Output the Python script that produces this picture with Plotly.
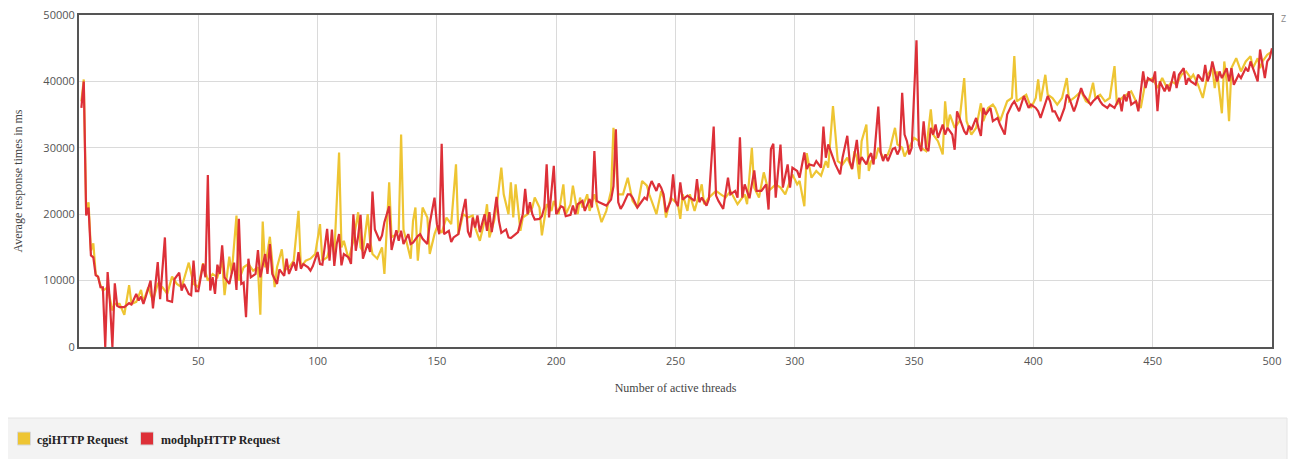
import plotly.graph_objects as go

# ---- data ----
cgi_threads = [1,2,3,4,5,6,7,8,9,10,12,13,14,15,17,19,21,22,24,26,27,29,31,33,35,37,39,41,43,46,48,50,52,54,56,58,60,61,63,64,66,67,69,71,73,75,76,77,78,80,
82,83,85,86,88,90,92,93,95,97,99,101,102,104,106,107,109,110,111,113,115,117,118,119,121,122,123,125,127,128,130,131,133,134,135,136,138,139,140,141,142,144,146,147,149,150,152,154,156,158,159,161,
163,165,166,168,170,171,172,174,175,177,178,180,181,182,183,185,186,188,190,191,193,194,196,198,199,201,203,204,206,207,209,210,211,213,214,216,217,219,221,222,223,224,226,228,230,232,234,236,238,239,240,242,244,245,
246,248,251,252,253,255,256,258,261,262,264,267,269,271,273,276,279,280,282,283,285,287,289,292,294,296,299,301,302,304,305,307,309,311,313,314,316,318,320,322,324,325,
326,327,328,330,331,332,334,335,337,339,340,342,343,345,346,348,350,352,353,355,357,358,360,362,363,364,365,367,369,371,372,374,376,378,379,381,383,384,386,387,389,391,392,393,395,397,399,401,402,403,405,406,
408,410,412,414,415,417,420,422,423,425,426,428,430,432,434,435,437,439,441,443,445,447,450,452,454,456,458,460,462,464,466,467,469,471,473,475,476,477,479,480,481,482,483,485,487,489,491,492,494,495,496,498,500]
cgi_ms = [37000,40300,20500,21800,14500,15600,11000,10500,9300,8500,9000,7000,5500,6500,6500,4850,9300,6500,6800,8600,6800,9000,7000,9500,9000,8000,10600,9500,9000,12700,9500,9000,12600,10000,11000,10500,13000,7800,13600,11000,19800,10000,12000,12500,11500,12000,4850,18900,12000,16600,
9000,12000,14700,11500,12000,13000,20500,12000,13000,13300,14000,18500,13000,13500,16000,14000,29300,15000,16000,13200,16000,20300,15000,14400,20000,16000,14000,13300,15000,11000,24800,16500,17000,17500,32000,17700,15000,13300,19000,21000,13000,21000,19500,14000,17000,18000,17200,19500,18500,27500,17000,20000,
19500,19800,18000,16000,19000,21500,16500,19000,21000,27000,23000,20000,24800,19500,24500,17500,19500,20000,21000,22500,21000,16800,21500,20500,22000,20000,24500,20000,21500,24300,20000,22500,21000,23000,20500,23000,21500,18800,20500,22000,23500,33000,23000,23000,25500,22000,21000,25000,24300,23000,22000,20000,23500,22500,
19500,22500,21500,19300,23000,20500,23000,20500,24500,21500,22500,23500,23000,22500,23500,21500,23000,21500,30000,24000,22500,26300,23500,24500,24000,23000,26000,24500,25000,21200,29200,25500,26500,25800,28000,27000,36300,28000,27500,28500,26800,29500,
28500,25300,31000,33500,26500,28000,28500,30000,28500,29000,30000,33000,30500,30000,28700,30000,31500,31000,30000,29500,35800,32000,31000,29000,37000,33000,35000,33000,34000,40500,34000,32000,33000,36700,34000,36000,36500,36000,34000,35000,37000,37500,43800,37000,37500,38000,36000,37500,40300,37000,41000,38000,
37500,36500,37500,40500,37000,37500,38500,37000,36800,39800,37500,38000,37000,37500,42300,36500,37500,38000,38500,37000,36000,40000,40500,39000,40500,39000,40000,39500,41000,41500,40500,41000,39500,37500,41000,42000,39000,41500,35200,43000,40000,34000,42000,43500,41500,43000,43800,42000,43500,42000,43000,44000,44500]

modphp_threads = [1,2,3,4,5,6,7,8,9,10,11,12,13,14,15,16,17,19,21,22,24,25,26,27,28,30,31,33,34,36,37,39,40,42,43,44,46,47,48,49,50,52,53,54,55,56,57,58,59,60,61,62,63,65,66,67,68,69,70,71,72,74,75,76,78,79,80,81,
83,84,86,87,88,90,91,92,93,94,96,97,98,100,101,102,104,105,106,107,108,109,110,111,113,114,115,116,117,118,119,121,122,123,124,126,127,128,130,131,132,133,134,135,136,138,139,140,142,143,144,146,147,149,150,151,152,153,155,156,157,159,160,162,
163,164,165,166,167,168,170,171,172,173,175,176,177,179,180,181,183,184,186,187,188,189,190,191,193,194,195,196,197,199,200,202,203,204,206,207,208,209,211,212,214,215,216,217,218,220,221,223,224,225,226,227,228,230,231,232,234,235,237,238,239,240,242,243,244,
245,246,248,249,250,251,252,253,255,256,258,259,260,261,263,264,266,267,268,270,272,273,275,276,277,278,279,281,282,283,284,286,288,289,290,291,292,293,294,295,297,298,299,301,302,304,305,306,308,309,311,312,313,314,316,317,319,320,322,323,324,326,327,
328,330,331,332,333,335,336,337,338,339,341,342,343,344,345,346,347,348,349,351,352,353,354,355,356,357,358,359,360,362,363,364,366,367,368,369,371,372,373,374,376,377,378,379,380,382,383,385,386,388,389,391,392,394,395,396,398,399,401,402,403,405,406,407,
408,409,411,413,414,415,417,418,420,421,422,424,425,427,428,429,431,432,434,436,437,438,439,440,441,443,444,445,446,447,448,450,451,452,453,455,456,457,459,460,461,463,464,465,466,468,469,471,472,473,474,475,477,478,479,481,482,483,484,486,487,489,490,491,492,494,495,496,497,498,499,500]
modphp_ms = [36000,40000,19800,21000,13800,13500,10800,10600,9000,9000,0,11300,6500,0,9600,6200,6000,6000,6600,6400,8000,7000,7600,6500,7600,10000,5800,12800,7200,16500,7000,6800,10200,11200,8500,9500,8000,7800,13000,8400,8400,12500,10500,25900,8500,10500,8000,12400,11000,15300,10500,9900,9500,12700,8600,19300,9500,9700,4500,13300,10500,11000,14600,10500,14000,11000,15500,11000,
9500,11700,10700,13300,11000,12800,11500,14300,11800,12500,12000,11500,12200,14300,12500,12400,17800,13000,17700,12200,15500,17000,12300,14000,13500,12500,20000,14500,16700,19900,13300,15600,14300,23400,17700,16000,16800,18800,21200,14600,16300,17600,16000,17500,15500,17000,15500,15700,16700,17000,16300,15500,18600,22500,18500,17000,30600,17000,17500,15800,16500,17000,19000,22300,
17400,16500,19500,18000,19800,17300,20000,17500,20300,17300,22600,19000,17200,17700,16500,16400,17000,17300,20000,23800,20000,21800,20000,19200,19300,19700,21000,27500,19500,27300,20000,21200,21000,19700,19900,21300,20000,21500,22000,20500,22300,21000,29500,22000,21800,21500,21300,22200,24200,32800,21800,20800,21400,23000,23000,22500,21000,21500,22500,22200,24000,25000,23500,24600,24000,
23000,20300,22000,26000,22000,21200,24800,22200,22800,22500,22000,25300,21800,22500,21300,22300,33200,22800,22000,20800,25500,23000,23500,22500,31600,22500,24500,22400,24500,26600,23500,23500,24500,20700,29800,30600,22500,26000,30500,24000,27500,24000,27000,26500,25500,29300,26800,27500,27300,28000,27000,33200,28500,30500,28500,27500,26000,28500,31800,28000,26800,31200,27500,
28600,27500,28600,29200,27500,36200,29300,28000,29000,28000,29800,30000,29000,29800,38300,32000,31000,29000,30000,46200,30500,29500,34000,30000,29500,33000,32000,33500,31500,33500,32000,33000,32000,29700,35500,34500,32500,32000,33300,32700,34500,33000,31800,36000,35000,36000,34000,34500,33500,32000,35000,36500,37000,35500,36500,37800,36000,36500,36000,35500,34500,36500,37800,37000,
35500,35500,34000,36000,38000,37500,35500,36500,39000,38000,37500,36500,37000,37700,37000,36500,36000,36500,36000,37500,35500,38000,37000,38500,36500,37000,35500,38500,41500,39000,40500,40000,41500,35500,40000,38500,39500,38500,41500,39000,41000,42000,39500,40500,40000,39500,41000,40000,42500,40000,41000,43000,40000,41500,40500,42000,40000,42000,39500,41000,40500,42000,41500,43000,42000,40000,44800,42500,40500,43000,43500,45000]

series_names = ["cgiHTTP Request", "modphpHTTP Request"]
series_colors = ["#eec533", "#dd3038"]
x_ticks = [50, 100, 150, 200, 250, 300, 350, 400, 450, 500]
y_ticks = [0, 10000, 20000, 30000, 40000, 50000]
x_title = "Number of active threads"
y_title = "Average response times in ms"

SERIF = "Liberation Serif, Times New Roman, serif"
SANS = "Open Sans, DejaVu Sans, sans-serif"

# ---- layout geometry ----
# The page body has an 8px margin, so the figure is drawn 8px smaller and
# the plot area offset so it lands at the reference's on-screen position.
OFF = 8
SCREEN_W, SCREEN_H = 1296, 459
PLOT_L, PLOT_R, PLOT_T, PLOT_B = 79, 1272, 15, 347   # on-screen plot area
W, H = SCREEN_W - OFF, SCREEN_H - OFF
ML, MT = PLOT_L - OFF, PLOT_T - OFF
MR, MB = W - (PLOT_R - OFF), H - (PLOT_B - OFF)
PW, PH = PLOT_R - PLOT_L, PLOT_B - PLOT_T


def px(x):
    return (x - PLOT_L) / PW


def py(y):
    return (PLOT_B - y) / PH


fig = go.Figure()
fig.add_trace(go.Scatter(x=cgi_threads, y=cgi_ms, mode="lines", name=series_names[0],
                         line=dict(color=series_colors[0], width=2.2)))
fig.add_trace(go.Scatter(x=modphp_threads, y=modphp_ms, mode="lines", name=series_names[1],
                         line=dict(color=series_colors[1], width=2.2)))

# legend band + legend entries (square swatch + bold label), drawn below the plot
shapes = [dict(type="rect", xref="paper", yref="paper", x0=px(0), x1=px(1287), y0=py(470), y1=py(418),
               fillcolor="#f3f3f3", line=dict(color="#e4e4e4", width=1), layer="below")]
annotations = []
sw_left = [17.5, 140.5]
txt_left = [35, 158.5]
for nm, col, sx, tx in zip(series_names, series_colors, sw_left, txt_left):
    shapes.append(dict(type="rect", xref="paper", yref="paper", x0=px(sx), x1=px(sx + 13),
                       y0=py(445), y1=py(432), fillcolor=col, line=dict(color="#d8d8d8", width=1)))
    annotations.append(dict(text=nm, xref="paper", yref="paper", x=px(tx), y=py(439.5),
                            xanchor="left", yanchor="middle", showarrow=False,
                            font=dict(family=SERIF, size=12, color="#222222", weight="bold")))
annotations.append(dict(text="Z", xref="paper", yref="paper", x=px(1279), y=py(18), xanchor="left",
                        yanchor="middle", showarrow=False,
                        font=dict(family=SANS, size=9, color="#888888")))

fig.update_layout(
    width=W, height=H,
    margin=dict(l=ML, r=MR, t=MT, b=MB, autoexpand=False),
    paper_bgcolor="white", plot_bgcolor="white",
    font=dict(family=SANS, color="#545454", size=11),
    showlegend=False,
    shapes=shapes,
    annotations=annotations,
)
fig.update_xaxes(range=[0, 500], tickvals=x_ticks, ticks="", showgrid=True, gridcolor="#dadada", gridwidth=1,
                 showline=True, linecolor="#555555", linewidth=2, mirror=True, zeroline=False, automargin=False,
                 tickformat="d", ticklabelstandoff=3, ticklabeloverflow="allow",
                 title=dict(text=x_title, font=dict(family=SERIF, size=12, color="#444444"), standoff=16),
                 tickfont=dict(family=SANS, size=11, color="#545454"))
fig.update_yaxes(range=[0, 50000], tickvals=y_ticks, ticks="", showgrid=True, gridcolor="#dadada", gridwidth=1,
                 showline=True, linecolor="#555555", linewidth=2, mirror=True, zeroline=False, automargin=False,
                 tickformat="d", ticklabeloverflow="allow",
                 title=dict(text=y_title, font=dict(family=SERIF, size=12, color="#444444"), standoff=18),
                 tickfont=dict(family=SANS, size=11, color="#545454"))

fig.write_html("out.html")
